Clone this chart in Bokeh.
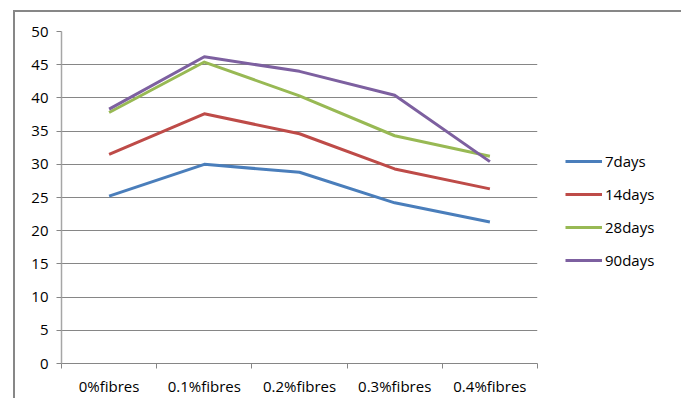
from bokeh.plotting import figure
from bokeh.models import Range1d, FixedTicker, Legend, LegendItem
from bokeh.embed import file_html
from bokeh.resources import INLINE

categories = ["0%fibres", "0.1%fibres", "0.2%fibres", "0.3%fibres", "0.4%fibres"]
days7 = [25.2, 30.0, 28.8, 24.2, 21.3]
days14 = [31.5, 37.6, 34.6, 29.3, 26.3]
days28 = [37.8, 45.4, 40.3, 34.3, 31.2]
days90 = [38.3, 46.2, 44.0, 40.4, 30.4]
series_names = ["7days", "14days", "28days", "90days"]
series_colors = ["#4A7EBB", "#BE4B48", "#98B954", "#7D60A0"]
y_ticks = [0, 5, 10, 15, 20, 25, 30, 35, 40, 45, 50]

FONT = "Open Sans"
GRID = "#868686"

n = len(categories)
xs = [i + 0.5 for i in range(n)]

p = figure(frame_width=476, frame_height=332, output_backend="svg", toolbar_location=None,
           x_range=Range1d(0, n), y_range=Range1d(y_ticks[0], y_ticks[-1]),
           min_border_left=46, min_border_right=134, min_border_top=19,
           min_border_bottom=30)
p.styles = {"box-sizing": "content-box", "margin-left": "13px", "margin-top": "10px",
            "border-left": "2px solid #878787", "border-top": "2px solid #878787",
            "border-right": "2px solid #878787"}
p.outline_line_color = None
p.background_fill_color = "white"
p.border_fill_color = "white"

renderers = []
for vals, color in zip([days7, days14, days28, days90], series_colors):
    r = p.line(xs, vals, line_color=color, line_width=3, line_join="round")
    renderers.append(r)

# x axis
xa = p.xaxis[0]
xa.ticker = FixedTicker(ticks=xs, minor_ticks=list(range(n + 1)))
xa.major_label_overrides = {x: c for x, c in zip(xs, categories)}
xa.major_tick_line_color = None
xa.major_tick_out = 5
xa.major_tick_in = 0
xa.minor_tick_line_color = GRID
xa.minor_tick_out = 5
xa.minor_tick_in = 0
xa.axis_line_color = GRID
xa.major_label_text_font = FONT
xa.major_label_text_font_size = "15px"
xa.major_label_text_color = "#000000"
xa.major_label_standoff = 7

# y axis
ya = p.yaxis[0]
ya.ticker = FixedTicker(ticks=y_ticks)
ya.axis_line_color = "#a6a6a6"
ya.axis_line_width = 1.5
ya.major_tick_line_color = GRID
ya.major_tick_out = 5
ya.major_tick_in = 0
ya.minor_tick_line_color = None
ya.major_label_text_font = FONT
ya.major_label_text_font_size = "15px"
ya.major_label_text_color = "#000000"
ya.major_label_standoff = 8

p.xgrid.grid_line_color = None
p.ygrid.grid_line_color = GRID
p.ygrid.grid_line_width = 1

legend = Legend(items=[LegendItem(label=nm, renderers=[r]) for nm, r in zip(series_names, renderers)],
                location=(28, 93), glyph_width=37, glyph_height=20, spacing=13,
                label_standoff=3, padding=0, margin=0, border_line_color=None,
                background_fill_alpha=0, label_text_font=FONT,
                label_text_font_size="15px", label_text_color="#000000")
p.add_layout(legend, "right")

open("out.html", "w").write(file_html(p, INLINE))
